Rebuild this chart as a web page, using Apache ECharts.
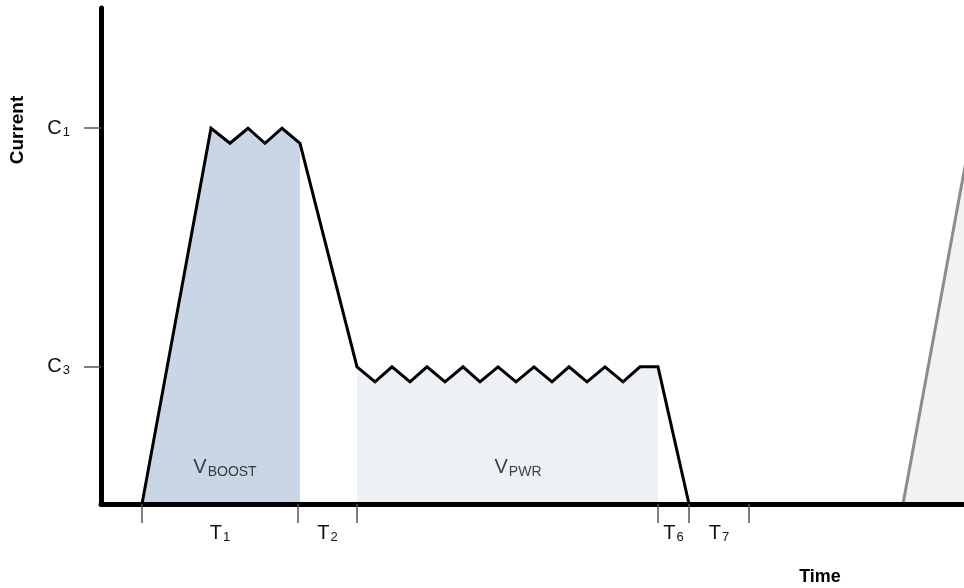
<!DOCTYPE html>
<html>
<head>
<meta charset="utf-8">
<title>Current vs Time</title>
<script src="https://cdn.jsdelivr.net/npm/echarts@6/dist/echarts.min.js"></script>
<style>
	html, body { margin: 0; padding: 0; background: #fff; }
	#chart { width: 964px; height: 588px; }
</style>
</head>
<body>
<div id="chart"></div>
<script>
// current trace, time in arbitrary units, current relative to C1 = 100
const waveTime = [41, 110, 129, 147, 164, 181, 199, 256, 274, 291, 309, 326, 344, 362, 379, 397, 415, 433, 451, 468, 486, 504, 522, 539, 557, 588];
const waveCurrent = [0, 100, 96, 100, 96, 100, 96, 36.5, 32.5, 36.5, 32.5, 36.5, 32.5, 36.5, 32.5, 36.5, 32.5, 36.5, 32.5, 36.5, 32.5, 36.5, 32.5, 36.5, 36.5, 0];
// start of the next cycle (cut off by the right edge)
const nextTime = [802, 871];
const nextCurrent = [0, 100];

// time ticks and the phase names between them
const tickTimes = [41, 197, 256, 557, 588, 648];
const phaseTimes = [119, 226.5, 572.5, 618];
const phaseNames = ["1", "2", "6", "7"];

// current levels on the y axis
const levelValues = [36.5, 100];
const levelNames = ["3", "1"];

// supply regions
const regionNames = ["BOOST", "PWR"];
const regionTime = [124, 417];
const regionCurrent = [9.6, 9.6];

const font = "Liberation Sans, Arial, sans-serif";
const ink = "#111";

const pairs = (xs, ys) => xs.map((x, i) => [x, ys[i]]);
const wave = pairs(waveTime, waveCurrent);

// big letter + subscript
const subText = (size, subSize, drop) => ({
	main: { fontSize: size, fontFamily: font, color: ink },
	sub: { fontSize: subSize, fontFamily: font, color: ink, padding: [drop, 0, 0, 1] },
});

const chart = echarts.init(document.getElementById("chart"));

chart.setOption({
	animation: false,
	grid: {
		left: 101,
		right: 0,
		top: 8,
		bottom: 84,
	},
	xAxis: {
		type: "value",
		min: 0,
		max: 863,
		z: 10,
		splitLine: { show: false },
		axisLine: {
			show: true,
			onZero: false,
			lineStyle: { color: "#000", width: 5 },
		},
		axisTick: {
			show: true,
			customValues: tickTimes,
			length: 19,
			lineStyle: { color: "#555", width: 1.5 },
		},
		axisLabel: {
			customValues: phaseTimes,
			margin: 19,
			fontSize: 20,
			fontFamily: font,
			color: ink,
			formatter: (v) => {
				const i = phaseTimes.indexOf(v);
				return "{main|T}{sub|" + phaseNames[i] + "}";
			},
			rich: subText(20, 13, 8),
		},
	},
	yAxis: {
		type: "value",
		min: 0,
		max: 132,
		z: 10,
		splitLine: { show: false },
		axisLine: {
			show: true,
			lineStyle: { color: "#000", width: 5 },
		},
		axisTick: {
			show: true,
			customValues: levelValues,
			length: 17,
			lineStyle: { color: "#555", width: 1.5 },
		},
		axisLabel: {
			customValues: levelValues,
			margin: 31,
			fontSize: 20,
			fontFamily: font,
			color: ink,
			formatter: (v) => {
				const i = levelValues.indexOf(v);
				return "{main|C}{sub|" + levelNames[i] + "}";
			},
			rich: subText(20, 13, 8),
		},
	},
	graphic: [
		{
			type: "text",
			x: 18,
			y: 130,
			rotation: Math.PI / 2,
			style: {
				text: "Current",
				font: "bold 19px " + font,
				fill: "#000",
				align: "center",
				verticalAlign: "middle",
			},
		},
		{
			type: "text",
			x: 820,
			y: 577,
			style: {
				text: "Time",
				font: "bold 18px " + font,
				fill: "#000",
				align: "center",
				verticalAlign: "middle",
			},
		},
	],
	series: [
		{
			name: "boost fill",
			type: "line",
			data: wave.slice(0, 7),
			symbol: "none",
			lineStyle: { width: 0 },
			areaStyle: { color: "#c9d6e5", opacity: 1 },
			z: 1,
		},
		{
			name: "pwr fill",
			type: "line",
			data: wave.slice(7, 25),
			symbol: "none",
			lineStyle: { width: 0 },
			areaStyle: { color: "#edf0f5", opacity: 1 },
			z: 1,
		},
		{
			name: "next cycle",
			type: "line",
			data: pairs(nextTime, nextCurrent),
			symbol: "none",
			lineStyle: { color: "#8c8c8c", width: 3 },
			areaStyle: { color: "#f2f2f2", opacity: 1 },
			z: 2,
		},
		{
			name: "current",
			type: "line",
			data: wave,
			symbol: "none",
			lineStyle: { color: "#000", width: 3, join: "miter" },
			z: 3,
		},
		{
			name: "regions",
			type: "scatter",
			data: pairs(regionTime, regionCurrent),
			symbolSize: 0,
			silent: true,
			label: {
				show: true,
				position: "inside",
				fontSize: 20,
				fontFamily: font,
				color: ink,
				formatter: (p) => "{main|V}{sub|" + regionNames[p.dataIndex] + "}",
				rich: subText(20, 14, 8),
			},
			z: 4,
		},
	],
});
</script>
</body>
</html>
